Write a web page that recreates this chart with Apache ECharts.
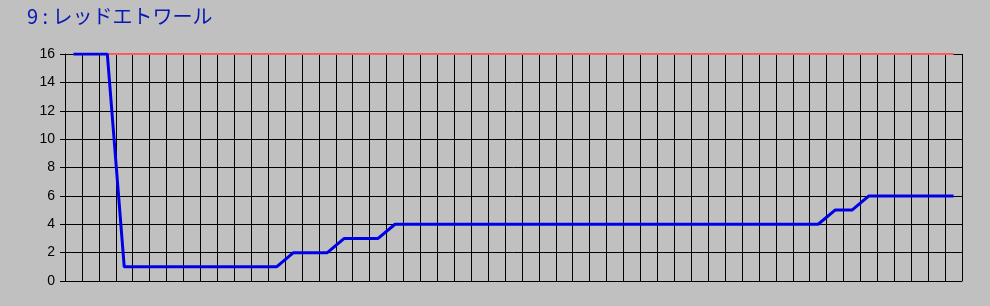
<!DOCTYPE html>
<html><head><meta charset="utf-8">
<script src="https://cdn.jsdelivr.net/npm/echarts@6/dist/echarts.min.js"></script>
<style>html,body{margin:0;padding:0;background:#c0c0c0;}#c{width:990px;height:306px;}</style>
</head><body><div id="c"></div>
<script>
const titleText = '9 : レッドエトワール';
const categories = Array.from({length: 53}, (_, i) => String(i + 1));
const rankValues = [16,16,16,1,1,1,1,1,1,1,1,1,1,2,2,2,3,3,3,4,4,4,4,4,4,4,4,4,4,4,4,4,4,4,4,4,4,4,4,4,4,4,4,4,4,5,5,6,6,6,6,6,6];
const refValues = [16,16,16,16,16,16,16,16,16,16,16,16,16,16,16,16,16,16,16,16,16,16,16,16,16,16,16,16,16,16,16,16,16,16,16,16,16,16,16,16,16,16,16,16,16,16,16,16,16,16,16,16,16];
const yTicks = [0,2,4,6,8,10,12,14,16];

const chart = echarts.init(document.getElementById('c'));
chart.setOption({
  backgroundColor: '#c0c0c0',
  animation: false,
  title: {
    text: titleText, left: 22, top: 1,
    textStyle: {color: '#0818b0', fontSize: 20, fontWeight: 'normal', fontFamily: 'Noto Sans CJK JP'}
  },
  grid: {left: 65, right: 28, top: 54, bottom: 25},
  xAxis: {
    type: 'category', data: categories, boundaryGap: true,
    axisLine: {show: true, lineStyle: {color: '#000', width: 1}},
    axisTick: {show: false},
    axisLabel: {show: false},
    splitLine: {show: true, interval: 0, lineStyle: {color: '#000', width: 1}}
  },
  yAxis: {
    type: 'value', min: 0, max: 16, interval: 2,
    axisLine: {show: true, lineStyle: {color: '#000', width: 1}},
    axisTick: {show: true, length: 5, lineStyle: {color: '#000'}},
    axisLabel: {color: '#000', fontSize: 14, margin: 10, fontFamily: 'Liberation Sans',
      formatter: v => yTicks.includes(v) ? String(v) : ''},
    splitLine: {show: true, lineStyle: {color: '#000', width: 1}}
  },
  series: [
    {type: 'line', data: refValues, symbol: 'none', z: 3,
     lineStyle: {color: '#ff5a5a', width: 2}},
    {type: 'line', data: rankValues, symbol: 'none', z: 4,
     lineStyle: {color: '#0000e8', width: 3}}
  ]
});
</script>
</body></html>
